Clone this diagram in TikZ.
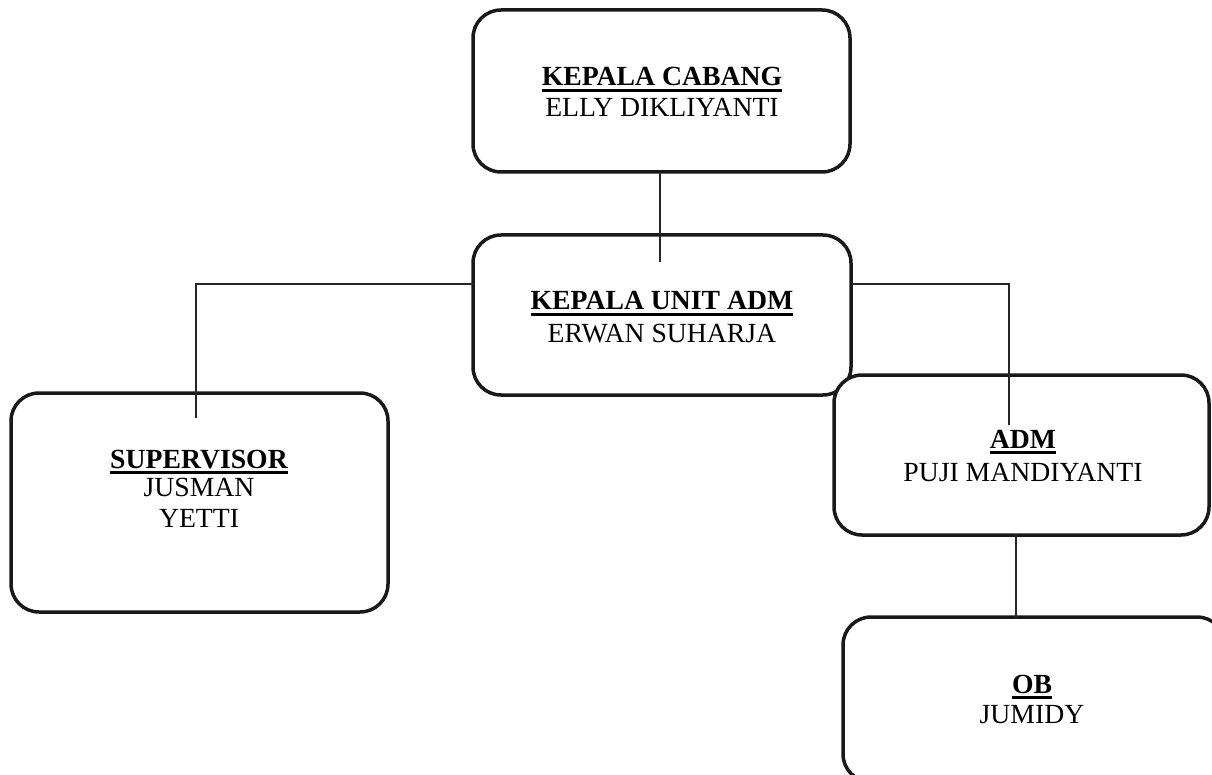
\documentclass[tikz,border=0pt]{standalone}
\usepackage{fontspec}
\setmainfont{Liberation Serif}
\newcommand\headline[1]{\setbox0=\hbox{\bfseries #1}\leavevmode\rlap{\rule[-6pt]{\wd0}{3pt}}\box0}
\tikzset{
  orgbox/.style={draw=black!90, line width=3.5pt, fill=white, rounded corners=28pt,
    inner sep=0pt, outer sep=0pt},
  txt/.style={anchor=base, inner sep=0pt, font=\fontsize{27.7pt}{31pt}\selectfont},
  link/.style={draw=black!85, line width=1.2pt}
}
\begin{document}
\begin{tikzpicture}[x=1pt,y=-1pt]
\useasboundingbox (0,0) rectangle (1212,775);
\clip (0,0) rectangle (1212,775);

% boxes
\node[orgbox, minimum width=377pt, minimum height=162pt] (kc)  at (661.5,91)   {};
\node[orgbox, minimum width=378pt, minimum height=160pt] (ku)  at (662,315)    {};
\node[orgbox, minimum width=377pt, minimum height=219pt] (sup) at (199.5,502.5) {};
\node[orgbox, minimum width=375pt, minimum height=160pt] (adm) at (1021.5,455) {};
\node[orgbox, minimum width=382pt, minimum height=165pt] (ob)  at (1034,699.5) {};

% texts
\node[txt] (kc-h) at (662,86)  {\headline{KEPALA CABANG}};
\node[txt] (kc-n) at (662,117) {ELLY DIKLIYANTI};
\node[txt] (ku-h) at (662,310) {\headline{KEPALA UNIT ADM}};
\node[txt] (ku-n) at (662,342) {ERWAN SUHARJA};
\node[txt] (sup-h) at (199,468) {\headline{SUPERVISOR}};
\node[txt] (sup-a) at (199,496) {JUSMAN};
\node[txt] (sup-b) at (199,527) {YETTI};
\node[txt] (adm-h) at (1023,448) {\headline{ADM}};
\node[txt] (adm-n) at (1023,481) {PUJI MANDIYANTI};
\node[txt] (ob-h) at (1032,693) {\headline{OB}};
\node[txt] (ob-n) at (1032,723) {JUMIDY};

% connectors
\coordinate (c1) at (660,262);
\coordinate (l1) at (196,284);
\coordinate (l2) at (196,418);
\coordinate (r1) at (1009,284);
\coordinate (r2) at (1009,425);
\coordinate (o1) at (1016,0);

\draw[link] (kc.south -| c1) -- (c1);
\draw[link] (ku.west |- l1) -- (l1) -- (l2);
\draw[link] (ku.east |- r1) -- (r1) -- (r2);
\draw[link] (adm.south -| o1) -- (ob.north -| o1);
\end{tikzpicture}
\end{document}
